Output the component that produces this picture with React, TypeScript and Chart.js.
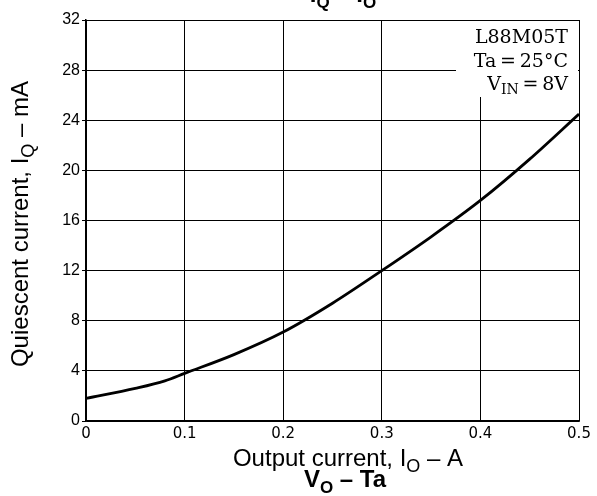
import React, { useEffect, useRef } from "react";
import { Chart, registerables } from "chart.js";

Chart.register(...registerables);

const outputCurrent = [0, 0.05, 0.08, 0.1, 0.15, 0.2, 0.25, 0.3, 0.35, 0.4, 0.45, 0.5];
const quiescentCurrent = [1.8, 2.6, 3.2, 3.8, 5.3, 7.1, 9.4, 12.0, 14.7, 17.6, 20.9, 24.5];
const xTicks = [0, 0.1, 0.2, 0.3, 0.4, 0.5];
const yTicks = [0, 4, 8, 12, 16, 20, 24, 28, 32];
const noteLines = ["L88M05T", "Ta\u2009=\u200925°C", "\u2009=\u20098V"];

type Seg = { t: string; sub?: boolean };

function segWidth(ctx: CanvasRenderingContext2D, segs: Seg[], font: string, subFont: string) {
  let w = 0;
  for (const s of segs) {
    ctx.font = s.sub ? subFont : font;
    w += ctx.measureText(s.t).width;
  }
  return w;
}

function drawSegs(
  ctx: CanvasRenderingContext2D,
  segs: Seg[],
  cx: number,
  y: number,
  font: string,
  subFont: string,
  subDy: number,
  align: "center" | "right" = "center"
) {
  const w = segWidth(ctx, segs, font, subFont);
  let x = align === "center" ? cx - w / 2 : cx - w;
  ctx.textAlign = "left";
  ctx.textBaseline = "alphabetic";
  for (const s of segs) {
    ctx.font = s.sub ? subFont : font;
    ctx.fillText(s.t, x, s.sub ? y + subDy : y);
    x += ctx.measureText(s.t).width;
  }
}

const SANS = "'Liberation Sans', Arial, sans-serif";

const labelsPlugin = {
  id: "labelsPlugin",
  afterDraw(chart: any) {
    const ctx: CanvasRenderingContext2D = chart.ctx;
    const ca = chart.chartArea;
    ctx.save();
    ctx.fillStyle = "#000";

    // top title (cut off by the top edge)
    drawSegs(ctx, [{ t: "I" }, { t: "Q", sub: true }, { t: " – I" }, { t: "O", sub: true }],
      343, 2, `bold 24px ${SANS}`, `bold 17px ${SANS}`, 6);

    // x axis title
    drawSegs(ctx, [{ t: "Output current, I" }, { t: "O", sub: true }, { t: " – A" }],
      348, 466, `24px ${SANS}`, `18px ${SANS}`, 6);

    // bottom caption
    drawSegs(ctx, [{ t: "V" }, { t: "O", sub: true }, { t: " – Ta" }],
      345, 487, `bold 24px ${SANS}`, `bold 17px ${SANS}`, 6);

    // y axis title
    ctx.save();
    ctx.translate(28, 224);
    ctx.rotate(-Math.PI / 2);
    drawSegs(ctx, [{ t: "Quiescent current, I" }, { t: "Q", sub: true }, { t: " – mA" }],
      0, 0, `24px ${SANS}`, `18px ${SANS}`, 6);
    ctx.restore();

    // annotation box
    ctx.fillStyle = "#fff";
    ctx.fillRect(ca.right - 123, ca.top + 1, 122, 76);
    ctx.fillStyle = "#000";
    const serif = "19px 'DejaVu Serif', 'Liberation Serif', serif";
    const serifSub = "14px 'DejaVu Serif', 'Liberation Serif', serif";
    const rx = ca.right - 11;
    drawSegs(ctx, [{ t: noteLines[0] }], rx, ca.top + 23, serif, serifSub, 0, "right");
    drawSegs(ctx, [{ t: noteLines[1] }], rx, ca.top + 47, serif, serifSub, 0, "right");
    drawSegs(ctx, [{ t: "V" }, { t: "IN", sub: true }, { t: noteLines[2] }], rx, ca.top + 70, serif, serifSub, 4, "right");
    ctx.restore();
  },
};

export default function App() {
  const ref = useRef<HTMLCanvasElement>(null);
  useEffect(() => {
    document.body.style.margin = "0";
    const chart = new Chart(ref.current!, {
      type: "line",
      data: {
        datasets: [
          {
            data: outputCurrent.map((x, i) => ({ x, y: quiescentCurrent[i] })),
            borderColor: "#000",
            borderWidth: 2.8,
            pointRadius: 0,
            cubicInterpolationMode: "monotone",
            fill: false,
          },
        ],
      },
      options: {
        animation: false,
        responsive: false,
        devicePixelRatio: 1,
        layout: { padding: { left: 0, top: 20, right: 18, bottom: 0 } },
        plugins: { legend: { display: false }, tooltip: { enabled: false }, title: { display: false } },
        scales: {
          x: {
            type: "linear",
            min: 0,
            max: 0.5,
            afterBuildTicks: (s: any) => { s.ticks = xTicks.map((v) => ({ value: v })); },
            afterFit: (s: any) => { s.height = 75; },
            ticks: {
              color: "#000",
              padding: 4,
              font: { family: "'DejaVu Sans', sans-serif", size: 15 },
              callback: (v: any) => (v === 0 ? "0" : Number(v).toFixed(1)),
              maxRotation: 0,
            },
            grid: { color: "#000", lineWidth: 1, tickLength: 0 },
            border: { color: "#000", width: 1.5 },
          },
          y: {
            type: "linear",
            min: 0,
            max: 32,
            afterBuildTicks: (s: any) => { s.ticks = yTicks.map((v) => ({ value: v })); },
            afterFit: (s: any) => { s.width = 86; },
            ticks: {
              color: "#000",
              padding: 2,
              font: { family: SANS, size: 16 },
            },
            grid: { color: "#000", lineWidth: 1, tickLength: 4 },
            border: { color: "#000", width: 1.5 },
          },
        },
      },
      plugins: [labelsPlugin],
    } as any);
    return () => chart.destroy();
  }, []);
  return <canvas ref={ref} width={597} height={496} style={{ display: "block" }} />;
}
